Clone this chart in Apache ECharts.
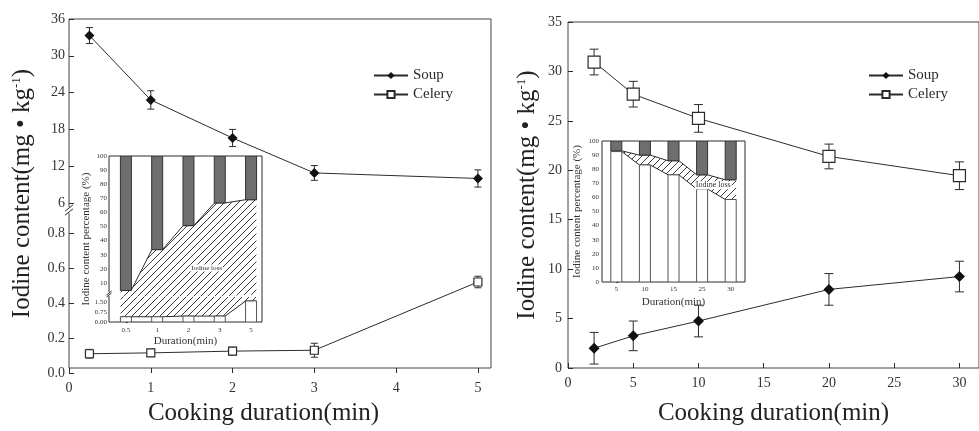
<!DOCTYPE html>
<html>
<head>
<meta charset="utf-8">
<script src="https://cdn.jsdelivr.net/npm/echarts@6/dist/echarts.min.js"></script>
<style>
html, body { margin: 0; padding: 0; background: #fff; }
#chart { width: 979px; height: 431px; }
</style>
</head>
<body>
<div id="chart"></div>
<script>
// left panel: short cooking
var timeL = [0.25, 1, 2, 3, 5];
var soupL = [33.3, 22.8, 16.6, 10.9, 10.0];
var soupErrL = [1.3, 1.5, 1.4, 1.2, 1.4];
var celeryL = [0.11, 0.115, 0.125, 0.13, 0.52];
var celeryErrL = [0.025, 0.02, 0.022, 0.04, 0.033];

// right panel: long cooking
var timeR = [2, 5, 10, 20, 30];
var soupR = [2.0, 3.25, 4.75, 7.95, 9.25];
var soupErrR = [1.6, 1.5, 1.6, 1.6, 1.55];
var celeryR = [30.95, 27.7, 25.25, 21.4, 19.45];
var celeryErrR = [1.3, 1.3, 1.4, 1.25, 1.4];

// tick labels
var xTicksL = [0, 1, 2, 3, 4, 5];
var yTicksLTop = [6, 12, 18, 24, 30, 36];
var yTicksLBot = [0, 0.2, 0.4, 0.6, 0.8];
var xTicksR = [0, 5, 10, 15, 20, 25, 30];
var yTicksR = [0, 5, 10, 15, 20, 25, 30, 35];

// insets (percent of iodine)
var insetCatsL = ['0.5', '1', '2', '3', '5'];
var insetSoupL = [95.3, 66.4, 49.4, 33.3, 31];
var insetCeleryL = [0.4, 0.4, 0.45, 0.45, 1.6];
var insetYTicksLTop = [10, 20, 30, 40, 50, 60, 70, 80, 90, 100];
var insetYTicksLBot = [0, 0.75, 1.5];

var insetCatsR = ['5', '10', '15', '25', '30'];
var insetSoupR = [7, 10, 14, 24, 27.5];
var insetCeleryR = [92.5, 83, 76, 66, 58.5];
var insetYTicksR = [0, 10, 20, 30, 40, 50, 60, 70, 80, 90, 100];

var SERIF = '"Liberation Serif","Times New Roman",serif';
var INK = '#2b2b2b';
var FRAME = '#444';

var chart = echarts.init(document.getElementById('chart'));

function pairs(xs, ys) {
  return xs.map(function (x, i) { return [x, ys[i]]; });
}

function hatch(size) {
  var c = document.createElement('canvas');
  c.width = c.height = size;
  var g = c.getContext('2d');
  g.strokeStyle = '#3a3a3a';
  g.lineWidth = 1;
  g.beginPath();
  g.moveTo(0, size); g.lineTo(size, 0);
  g.moveTo(-size / 2, size / 2); g.lineTo(size / 2, -size / 2);
  g.moveTo(size / 2, size * 1.5); g.lineTo(size * 1.5, size / 2);
  g.stroke();
  return c;
}
var hatchImg = hatch(7);

function errorBars(xs, ys, errs, ai, cap) {
  return {
    type: 'custom', xAxisIndex: ai, yAxisIndex: ai, z: 2, silent: true,
    data: xs.map(function (x, i) { return [x, ys[i] - errs[i], ys[i] + errs[i]]; }),
    encode: { x: 0, y: [1, 2] },
    renderItem: function (params, api) {
      var lo = api.coord([api.value(0), api.value(1)]);
      var hi = api.coord([api.value(0), api.value(2)]);
      var s = { stroke: INK, lineWidth: 1 };
      return {
        type: 'group', children: [
          { type: 'line', shape: { x1: lo[0], y1: lo[1], x2: hi[0], y2: hi[1] }, style: s },
          { type: 'line', shape: { x1: lo[0] - cap, y1: lo[1], x2: lo[0] + cap, y2: lo[1] }, style: s },
          { type: 'line', shape: { x1: hi[0] - cap, y1: hi[1], x2: hi[0] + cap, y2: hi[1] }, style: s }
        ]
      };
    }
  };
}

function soupLine(xs, ys, ai, size) {
  return {
    name: 'Soup', type: 'line', xAxisIndex: ai, yAxisIndex: ai, z: 3,
    data: pairs(xs, ys), symbol: 'diamond', symbolSize: size,
    itemStyle: { color: '#111' }, lineStyle: { color: INK, width: 1 }
  };
}
function celeryLine(xs, ys, ai, size) {
  return {
    name: 'Celery', type: 'line', xAxisIndex: ai, yAxisIndex: ai, z: 3,
    data: pairs(xs, ys), symbol: 'rect', symbolSize: size,
    itemStyle: { color: '#fff', borderColor: INK, borderWidth: 1.2 }, lineStyle: { color: INK, width: 1 }
  };
}

// columns (celery white at bottom, soup grey at top) + hatched loss band between them
function insetSeries(cats, soup, celery, hw, ai, showBase) {
  var BAR = 11;
  return [
    {
      type: 'custom', xAxisIndex: ai, yAxisIndex: ai, clip: true, z: 4, silent: true,
      data: [[0, 0]],
      renderItem: function (params, api) {
        var up = [], lo = [];
        cats.forEach(function (c, i) {
          [i - hw, i + hw].forEach(function (x) {
            up.push(api.coord([x, 100 - soup[i]]));
            lo.push(api.coord([x, celery[i]]));
          });
        });
        var kids = [
          { type: 'polygon', shape: { points: up.concat(lo.slice().reverse()) },
            style: { fill: { image: hatchImg, repeat: 'repeat' }, stroke: null } },
          { type: 'polyline', shape: { points: up }, style: { stroke: INK, lineWidth: 1, fill: null } }
        ];
        if (showBase) kids.push({ type: 'polyline', shape: { points: lo }, style: { stroke: INK, lineWidth: 1, fill: null } });
        return { type: 'group', children: kids };
      }
    },
    {
      type: 'custom', xAxisIndex: ai, yAxisIndex: ai, clip: true, z: 5, silent: true,
      data: cats.map(function (c, i) { return [i, celery[i], 100 - soup[i]]; }),
      encode: { x: 0, y: [1, 2] },
      renderItem: function (params, api) {
        var i = api.value(0);
        var b0 = api.coord([i, 0]), b1 = api.coord([i, api.value(1)]);
        var g0 = api.coord([i, api.value(2)]), g1 = api.coord([i, 100]);
        var kids = [
          { type: 'rect', shape: { x: g0[0] - BAR / 2, y: g1[1], width: BAR, height: g0[1] - g1[1] },
            style: { fill: '#6e6e6e', stroke: '#333', lineWidth: 1 } }
        ];
        if (showBase) kids.push({ type: 'rect', shape: { x: b0[0] - BAR / 2, y: b1[1], width: BAR, height: b0[1] - b1[1] },
          style: { fill: '#fff', stroke: '#555', lineWidth: 1 } });
        return { type: 'group', children: kids };
      }
    }
  ];
}

var none = { show: false };
function nameOnly(gi, extra) {
  return Object.assign({ gridIndex: gi, type: 'value', min: 0, max: 1,
    axisLine: none, axisTick: none, axisLabel: none, splitLine: none }, extra);
}
function mainAxis(gi, min, max, ticks, fmt, margin) {
  return {
    gridIndex: gi, type: 'value', min: min, max: max,
    axisLine: none, splitLine: none,
    axisTick: { inside: true, length: 5, customValues: ticks, lineStyle: { color: INK } },
    axisLabel: { customValues: ticks, margin: margin, fontFamily: SERIF, fontSize: 14, color: '#333',
      formatter: fmt }
  };
}
function insetAxis(gi, min, max, ticks, fmt, margin, tickLen) {
  return {
    gridIndex: gi, type: 'value', min: min, max: max,
    axisLine: none, splitLine: none,
    axisTick: { show: tickLen > 0, inside: true, length: tickLen, customValues: ticks, lineStyle: { color: INK } },
    axisLabel: { customValues: ticks, margin: margin, fontFamily: SERIF, fontSize: 7, color: '#333',
      formatter: fmt }
  };
}

var titleStyle = { fontFamily: SERIF, fontSize: 25, color: '#222' };
var yTitle = 'Iodine content(mg • kg{sup|-1})';
var yTitleStyle = { fontFamily: SERIF, fontSize: 25, color: '#222',
  rich: { sup: { fontFamily: SERIF, fontSize: 13, color: '#222', verticalAlign: 'top' } } };
var insetNameStyle = { fontFamily: SERIF, fontSize: 11, color: '#333' };
var legendBase = { data: ['Soup', 'Celery'], orient: 'vertical', top: 63, itemWidth: 34, itemHeight: 9, itemGap: 4,
  selectedMode: false, textStyle: { fontFamily: SERIF, fontSize: 15, color: INK } };

var option = {
  animation: false,
  textStyle: { fontFamily: SERIF },
  grid: [
    { left: 69, top: 19, width: 422, height: 354, show: true, borderColor: FRAME, borderWidth: 1, backgroundColor: 'transparent' },
    { left: 69, top: 19, width: 422, height: 184 },
    { left: 69, top: 203, width: 422, height: 170 },
    { left: 568, top: 22, width: 415, height: 353, show: true, borderColor: FRAME, borderWidth: 1, backgroundColor: 'transparent' },
    { left: 109, top: 156, width: 153, height: 166, show: true, borderColor: INK, borderWidth: 1, backgroundColor: '#fff', z: 3 },
    { left: 109, top: 156, width: 153, height: 141 },
    { left: 109, top: 297, width: 153, height: 25 },
    { left: 602, top: 141, width: 143, height: 141, show: true, borderColor: INK, borderWidth: 1, backgroundColor: '#fff', z: 3 }
  ],
  xAxis: [
    nameOnly(0, { name: 'Cooking duration(min)', nameLocation: 'middle', nameGap: 33,
      nameTextStyle: Object.assign({ padding: [0, 33, 0, 0] }, titleStyle) }),
    { gridIndex: 1, type: 'value', min: 0, max: 5.16, show: false },
    mainAxis(2, 0, 5.16, xTicksL, null, 8),
    Object.assign(mainAxis(3, 0, 31.5, xTicksR, null, 8),
      { name: 'Cooking duration(min)', nameLocation: 'middle', nameGap: 33, nameTextStyle: titleStyle }),
    nameOnly(4, {}),
    { gridIndex: 5, type: 'value', min: -0.54, max: 4.35, show: false },
    Object.assign(insetAxis(6, -0.54, 4.35, [0, 1, 2, 3, 4], function (v) { return insetCatsL[v]; }, 5, 0),
      { name: 'Duration(min)', nameLocation: 'middle', nameGap: 14, nameTextStyle: insetNameStyle }),
    Object.assign(insetAxis(7, -0.5, 4.5, [0, 1, 2, 3, 4], function (v) { return insetCatsR[v]; }, 4, 0),
      { name: 'Duration(min)', nameLocation: 'middle', nameGap: 15, nameTextStyle: insetNameStyle })
  ],
  yAxis: [
    nameOnly(0, { name: yTitle, nameLocation: 'middle', nameGap: 34, nameTextStyle: yTitleStyle }),
    mainAxis(1, 6, 36, yTicksLTop, null, 4),
    mainAxis(2, 0, 0.9714, yTicksLBot, function (v) { return v.toFixed(1); }, 4),
    Object.assign(mainAxis(3, 0, 35, yTicksR, null, 6),
      { name: yTitle, nameLocation: 'middle', nameGap: 28, nameTextStyle: yTitleStyle }),
    nameOnly(4, { name: 'Iodine content percentage (%)', nameLocation: 'middle', nameGap: 17, nameTextStyle: insetNameStyle }),
    insetAxis(5, 0, 100, insetYTicksLTop, null, 2, 2),
    insetAxis(6, 0, 1.9, insetYTicksLBot, function (v) { return v.toFixed(2); }, 2, 2),
    Object.assign(insetAxis(7, 0, 100, insetYTicksR, null, 3, 2),
      { name: 'Iodine content percentage (%)', nameLocation: 'middle', nameGap: 19, nameTextStyle: insetNameStyle })
  ],
  legend: [
    Object.assign({ left: 368 }, legendBase),
    Object.assign({ left: 863 }, legendBase)
  ],
  series: [
    errorBars(timeL, soupL, soupErrL, 1, 3.5),
    soupLine(timeL, soupL, 1, 10),
    errorBars(timeL, celeryL, celeryErrL, 2, 3.5),
    celeryLine(timeL, celeryL, 2, 8),
    errorBars(timeR, soupR, soupErrR, 3, 4.5),
    soupLine(timeR, soupR, 3, 11),
    errorBars(timeR, celeryR, celeryErrR, 3, 4.5),
    celeryLine(timeR, celeryR, 3, 12)
  ].concat(
    insetSeries(insetCatsL, insetSoupL, insetCeleryL, 0.17, 5, false),
    insetSeries(insetCatsL, insetSoupL, insetCeleryL, 0.17, 6, true),
    insetSeries(insetCatsR, insetSoupR, insetCeleryR, 0.19, 7, true)
  )
};
chart.setOption(option);

// axis-break marks and the "Iodine loss" notes, placed from axis coordinates
function breakMark(p, half, gap) {
  var x = p[0], y = p[1];
  return [
    { type: 'rect', shape: { x: x - 2, y: y - gap / 2 - 1, width: 4, height: gap + 2 }, style: { fill: '#fff' }, z: 20 },
    { type: 'line', shape: { x1: x - half, y1: y - gap / 2 + half * 0.8, x2: x + half, y2: y - gap / 2 - half * 0.8 }, style: { stroke: INK, lineWidth: 1 }, z: 21 },
    { type: 'line', shape: { x1: x - half, y1: y + gap / 2 + half * 0.8, x2: x + half, y2: y + gap / 2 - half * 0.8 }, style: { stroke: INK, lineWidth: 1 }, z: 21 }
  ];
}
function note(p, size) {
  return { type: 'text', x: p[0], y: p[1], z: 22,
    style: { text: 'Iodine loss', fontFamily: SERIF, fontSize: size, fill: '#333', align: 'center', verticalAlign: 'middle',
      backgroundColor: '#fff', padding: [0, 1] } };
}
var bL = chart.convertToPixel({ gridIndex: 1 }, [0, 6]);
var bI = chart.convertToPixel({ gridIndex: 5 }, [-0.54, 0]);
chart.setOption({
  graphic: [].concat(
    breakMark([bL[0], bL[1] + 7], 4, 4),
    breakMark([bI[0], bI[1] - 3], 2.5, 2),
    [note(chart.convertToPixel({ gridIndex: 5 }, [2.58, 20.6]), 7),
     note(chart.convertToPixel({ gridIndex: 7 }, [3.39, 68.7]), 8)]
  )
});
</script>
</body>
</html>
